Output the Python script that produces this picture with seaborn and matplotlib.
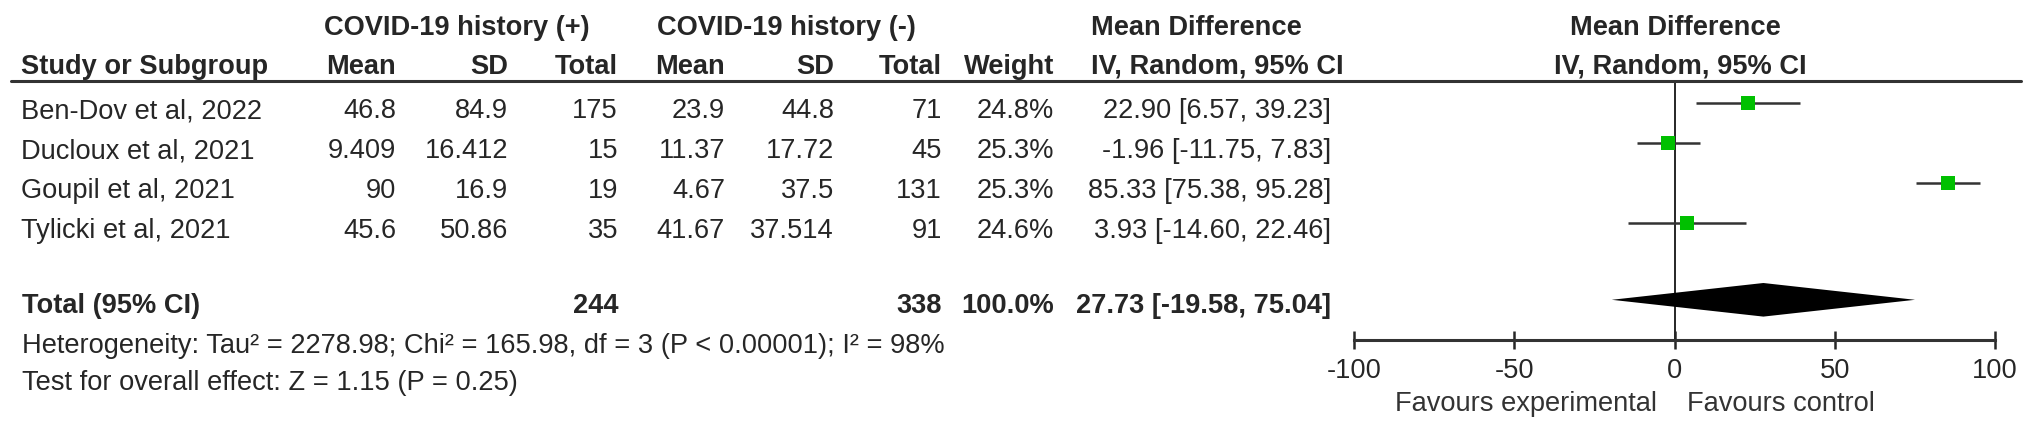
import matplotlib
matplotlib.use("Agg")
import matplotlib.pyplot as plt
import seaborn as sns
import pandas as pd
from matplotlib.lines import Line2D

# ---------------- data ----------------
studies = ["Ben-Dov et al, 2022", "Ducloux et al, 2021", "Goupil et al, 2021", "Tylicki et al, 2021"]
mean_pos = [46.8, 9.409, 90, 45.6]
sd_pos = [84.9, 16.412, 16.9, 50.86]
n_pos = [175, 15, 19, 35]
mean_neg = [23.9, 11.37, 4.67, 41.67]
sd_neg = [44.8, 17.72, 37.5, 37.514]
n_neg = [71, 45, 131, 91]
weights = [24.8, 25.3, 25.3, 24.6]
md = [22.90, -1.96, 85.33, 3.93]
ci_low = [6.57, -11.75, 75.38, -14.60]
ci_high = [39.23, 7.83, 95.28, 22.46]
pooled_md, pooled_low, pooled_high = 27.73, -19.58, 75.04
total_pos, total_neg, total_weight = 244, 338, 100.0
heterogeneity = "Heterogeneity: Tau\u00b2 = 2278.98; Chi\u00b2 = 165.98, df = 3 (P < 0.00001); I\u00b2 = 98%"
overall = "Test for overall effect: Z = 1.15 (P = 0.25)"
xticks = [-100, -50, 0, 50, 100]
favours_left = "Favours experimental"
favours_right = "Favours control"

# ---------------- style ----------------
sns.set_theme(style="white")
plt.rcParams['font.family'] = ['Liberation Sans', 'DejaVu Sans']
plt.rcParams['axes.unicode_minus'] = False

W, H = 2032, 430
FS = 19.6
TXT = '#262626'
GREEN = '#00c000'

fig = plt.figure(figsize=(W / 100, H / 100), dpi=100)
fig.patch.set_facecolor('white')


def fx(x):
    return x / W


def fy(y):
    return 1 - y / H


def put(x, y, s, ha='left', bold=False, color=TXT):
    fig.text(fx(x), fy(y), s, ha=ha, va='baseline', fontsize=FS,
             fontweight='bold' if bold else 'normal', color=color)


# header rows
put(324, 35, "COVID-19 history (+)", bold=True)
put(657, 35, "COVID-19 history (-)", bold=True)
put(1091, 35, "Mean Difference", bold=True)
put(1675, 35, "Mean Difference", ha='center', bold=True)

put(21, 73.5, "Study or Subgroup", bold=True)
for x, s in [(396, "Mean"), (508, "SD"), (618, "Total"),
             (725, "Mean"), (834, "SD"), (942, "Total"), (1054, "Weight")]:
    put(x, 73.5, s, ha='right', bold=True)
put(1091, 73.5, "IV, Random, 95% CI", bold=True)
put(1680, 73.5, "IV, Random, 95% CI", ha='center', bold=True)

fig.add_artist(Line2D([fx(11), fx(2021)], [fy(81), fy(81)], lw=2.2, color='#333333'))

# study rows
for i, name in enumerate(studies):
    yb = 118 + 40 * i
    put(21, yb, name)
    put(396, yb, f"{mean_pos[i]:g}", ha='right')
    put(508, yb, f"{sd_pos[i]:g}", ha='right')
    put(618, yb, f"{n_pos[i]}", ha='right')
    put(725, yb, f"{mean_neg[i]:g}", ha='right')
    put(834, yb, f"{sd_neg[i]:g}", ha='right')
    put(942, yb, f"{n_neg[i]}", ha='right')
    put(1054, yb, f"{weights[i]:.1f}%", ha='right')
    put(1331, yb, f"{md[i]:.2f} [{ci_low[i]:.2f}, {ci_high[i]:.2f}]", ha='right')

# total row
put(22, 313, "Total (95% CI)", bold=True)
put(618, 313, f"{total_pos}", ha='right', bold=True)
put(942, 313, f"{total_neg}", ha='right', bold=True)
put(1054, 313, f"{total_weight:.1f}%", ha='right', bold=True)
put(1331, 313, f"{pooled_md:.2f} [{pooled_low:.2f}, {pooled_high:.2f}]", ha='right', bold=True)

put(22, 353, heterogeneity)
put(22, 390, overall)

# ---------------- forest plot ----------------
ax_left, ax_right, ax_top, ax_bottom = 1354, 1995, 81, 339.5
row0, row_step = 103, 40
ax = fig.add_axes([fx(ax_left), fy(ax_bottom), (ax_right - ax_left) / W, (ax_bottom - ax_top) / H])
ax.set_facecolor('none')

df = pd.DataFrame({"row": list(range(len(studies))), "md": md, "lo": ci_low, "hi": ci_high, "w": weights})
total_row = 4.92

ax.axvline(0, color=TXT, lw=1.4, zorder=1)
ax.hlines(df["row"], df["lo"], df["hi"], color='#333333', lw=1.8, zorder=2)
sns.scatterplot(data=df, x="md", y="row", marker='s', s=95, color=GREEN,
                linewidth=0, ax=ax, legend=False, zorder=3)
hh = 0.42
ax.fill([pooled_low, pooled_md, pooled_high, pooled_md],
        [total_row, total_row - hh, total_row, total_row + hh], color='black', lw=0, zorder=3)

ax.set_xlim(-100, 100)
ax.set_ylim((ax_bottom - row0) / row_step, (ax_top - row0) / row_step)
ax.set_xticks(xticks)
ax.set_xticklabels([f"{t}" for t in xticks])
ax.set_yticks([])
ax.set_xlabel("")
ax.set_ylabel("")
for side in ['left', 'top', 'right']:
    ax.spines[side].set_visible(False)
ax.spines['bottom'].set_linewidth(2.2)
ax.spines['bottom'].set_color('#333333')
ax.tick_params(axis='x', direction='inout', length=13.5, width=1.8, colors=TXT,
               labelsize=FS, pad=6.5, bottom=True)

put(1657, 411, favours_left, ha='right', color='#333333')
put(1687, 411, favours_right, color='#333333')

fig.savefig("out.png", dpi=100, facecolor='white')
